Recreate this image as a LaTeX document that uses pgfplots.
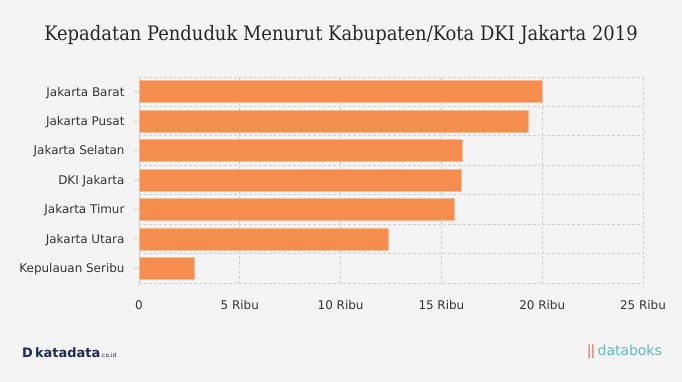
\documentclass[border=0pt]{standalone}
\usepackage{pgfplots}
\pgfplotsset{compat=1.18}
\usepackage{fontspec}
\setmainfont{DejaVu Sans}
\newfontfamily\titlefont{DejaVu Serif Condensed}
\definecolor{bg}{HTML}{F4F4F4}
\definecolor{bar}{HTML}{F58D4F}
\definecolor{gridc}{HTML}{CFCFCF}
\definecolor{navy}{HTML}{1B2A5A}
\definecolor{teal}{HTML}{5BBDB8}
\definecolor{logored}{HTML}{E8654A}
\begin{document}
\begin{tikzpicture}
\fill[bg] (0,0) rectangle (682bp,382bp);
\node[font=\titlefont\fontsize{20}{24}\selectfont, text=black!85] at (341bp,347bp) {Kepadatan Penduduk Menurut Kabupaten/Kota DKI Jakarta 2019};
\begin{axis}[
  at={(139bp,99bp)}, anchor=south west,
  scale only axis, width=504bp, height=206bp,
  xmin=0, xmax=25, ymin=-0.5, ymax=6.5,
  y dir=reverse,
  xbar, bar width=22bp, bar shift=0pt,
  xtick={0,5,10,15,20,25},
  xticklabels={0,5 Ribu,10 Ribu,15 Ribu,20 Ribu,25 Ribu},
  ytick={0,...,6},
  yticklabels={Jakarta Barat,Jakarta Pusat,Jakarta Selatan,DKI Jakarta,Jakarta Timur,Jakarta Utara,Kepulauan Seribu},
  minor ytick={-0.5,0.5,...,6.5},
  xmajorgrids, yminorgrids,
  grid style={gridc, dashed, line width=0.8pt, dash pattern=on 3pt off 2pt},
  minor grid style={gridc, line width=0.8pt, dash pattern=on 3pt off 2pt},
  axis x line*=bottom, axis y line*=left,
  x axis line style={draw=none},
  y axis line style={draw=gridc, line width=0.8pt},
  ytick style={draw=gridc, line width=0.8pt},
  major tick length=5bp,
  xtick style={draw=none},
  minor tick length=0pt,
  tick label style={font=\fontsize{12}{14}\selectfont, text=black!80},
  xticklabel style={yshift=-14bp},
  yticklabel style={xshift=-6bp, yshift=-1bp},
  /pgf/number format/assume math mode=true,
  clip=false,
]
\addplot[fill=bar, draw=bar!60!white, line width=0.6pt] coordinates {
(20.0,0) (19.3,1) (16.05,2) (15.97,3) (15.65,4) (12.35,5) (2.73,6)};
\end{axis}
\node[anchor=west, font=\bfseries\fontsize{13}{15}\selectfont, text=navy, inner sep=0pt] at (22bp,29bp) {D\,katadata{\mdseries\fontsize{6}{7}\selectfont.co.id}};
\node[anchor=east, font=\fontsize{14}{16}\selectfont, text=teal, inner sep=0pt] at (662bp,30bp) {{\color{logored}\textbar\kern-1pt\textbar}\,databoks};
\end{tikzpicture}
\end{document}
